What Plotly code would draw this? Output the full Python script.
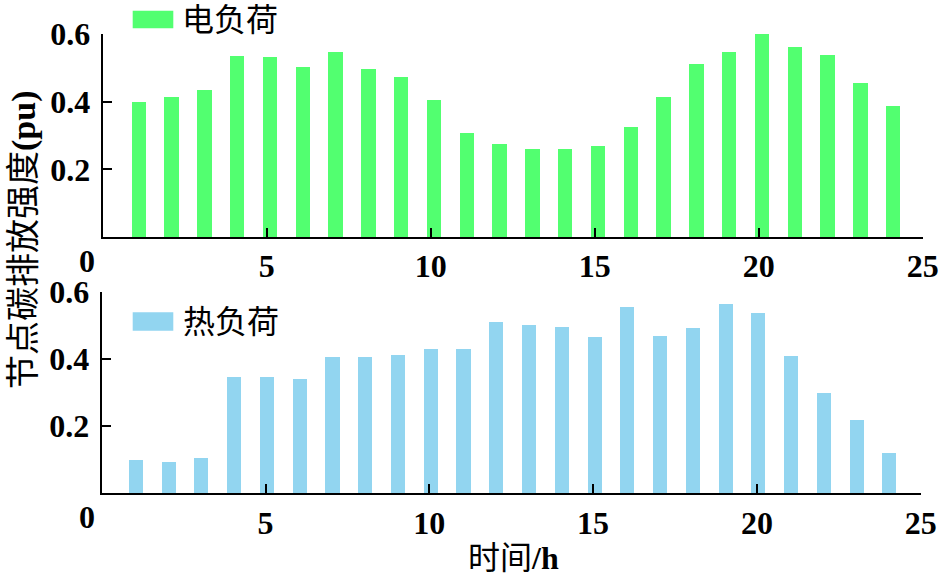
import plotly.graph_objects as go

hours = list(range(1, 25))
elec_load = [0.400, 0.415, 0.434, 0.535, 0.532, 0.502, 0.547, 0.496, 0.473, 0.406,
             0.307, 0.274, 0.260, 0.260, 0.268, 0.325, 0.414, 0.511, 0.547, 0.601,
             0.562, 0.538, 0.455, 0.387]
heat_load = [0.098, 0.092, 0.104, 0.346, 0.346, 0.340, 0.405, 0.405, 0.411, 0.429,
             0.429, 0.510, 0.501, 0.495, 0.465, 0.554, 0.468, 0.492, 0.563, 0.536,
             0.410, 0.298, 0.218, 0.119]
x_ticks = [0, 5, 10, 15, 20, 25]
y_ticks = [0.2, 0.4, 0.6]
elec_name = "电负荷"
heat_name = "热负荷"
y_title = "节点碳排放强度<b>(pu)</b>"
x_title = "时间<b>/h</b>"

GREEN = "#52FF70"
BLUE = "#92D5F0"
FONT = "Liberation Serif, Noto Sans CJK SC"
W, H = 939, 578
TICK_FONT = dict(family="Liberation Serif", size=32, color="black", weight="bold")

fig = go.Figure()
fig.add_trace(go.Bar(x=hours, y=elec_load, width=0.44, offset=-0.13,
                     marker=dict(color=GREEN, line=dict(width=0)),
                     xaxis="x", yaxis="y", showlegend=False, name=elec_name))
fig.add_trace(go.Bar(x=hours, y=heat_load, width=0.43, offset=-0.18,
                     marker=dict(color=BLUE, line=dict(width=0)),
                     xaxis="x2", yaxis="y2", showlegend=False, name=heat_name))

xcommon = dict(range=[0, 25], tickvals=x_ticks, ticktext=[""] + [str(v) for v in x_ticks[1:]],
               ticks="inside", ticklen=9, tickwidth=2, tickcolor="black",
               showline=True, linecolor="black", linewidth=2, showgrid=False, zeroline=False,
               automargin=False, tickfont=TICK_FONT)
ycommon = dict(range=[0, 0.6], tickvals=y_ticks, ticktext=["0.2", "0.4", "0.6"],
               ticks="inside", ticklen=9, tickwidth=2, tickcolor="black",
               showline=True, linecolor="black", linewidth=2, showgrid=False, zeroline=False,
               ticklabelstandoff=4, automargin=False, tickfont=TICK_FONT)

fig.update_layout(
    width=W, height=H,
    margin=dict(l=0, r=0, t=0, b=0, autoexpand=False),
    plot_bgcolor="white", paper_bgcolor="white",
    bargap=0,
    xaxis=dict(domain=[102.7 / W, 922.7 / W], anchor="y", **xcommon),
    yaxis=dict(domain=[1 - 237 / H, 1 - 34 / H], anchor="x", **ycommon),
    xaxis2=dict(domain=[101.7 / W, 920.7 / W], anchor="y2", **xcommon),
    yaxis2=dict(domain=[1 - 493.3 / H, 1 - 292 / H], anchor="x2", **ycommon),
)

shapes = [
    dict(type="rect", xref="paper", yref="paper", x0=132.7 / W, x1=173.3 / W,
         y0=1 - 28.3 / H, y1=1 - 10.7 / H, fillcolor=GREEN, line=dict(width=0)),
    dict(type="rect", xref="paper", yref="paper", x0=132.7 / W, x1=173.3 / W,
         y0=1 - 330.7 / H, y1=1 - 312.3 / H, fillcolor=BLUE, line=dict(width=0)),
]
fig.update_layout(shapes=shapes)

annotations = [
    dict(text=elec_name, xref="paper", yref="paper", x=180 / W, y=1 - 20 / H,
         xanchor="left", yanchor="middle", showarrow=False,
         font=dict(family=FONT, size=32, color="black")),
    dict(text=heat_name, xref="paper", yref="paper", x=181 / W, y=1 - 322 / H,
         xanchor="left", yanchor="middle", showarrow=False,
         font=dict(family=FONT, size=32, color="black")),
    dict(text=y_title, xref="paper", yref="paper", x=24 / W, y=1 - 240 / H,
         xanchor="center", yanchor="middle", textangle=-90, showarrow=False,
         font=dict(family=FONT, size=34, color="black")),
    dict(text=x_title, xref="paper", yref="paper", x=513 / W, y=1 - 558 / H,
         xanchor="center", yanchor="middle", showarrow=False,
         font=dict(family=FONT, size=32, color="black")),
    dict(text="0", xref="paper", yref="paper", x=86.5 / W, y=1 - 261 / H,
         xanchor="center", yanchor="middle", showarrow=False, font=TICK_FONT),
    dict(text="0", xref="paper", yref="paper", x=86.5 / W, y=1 - 517 / H,
         xanchor="center", yanchor="middle", showarrow=False, font=TICK_FONT),
]
fig.update_layout(annotations=annotations)

fig.write_html("out.html", config={"displayModeBar": False},
               post_script="document.body.style.margin='0';")
